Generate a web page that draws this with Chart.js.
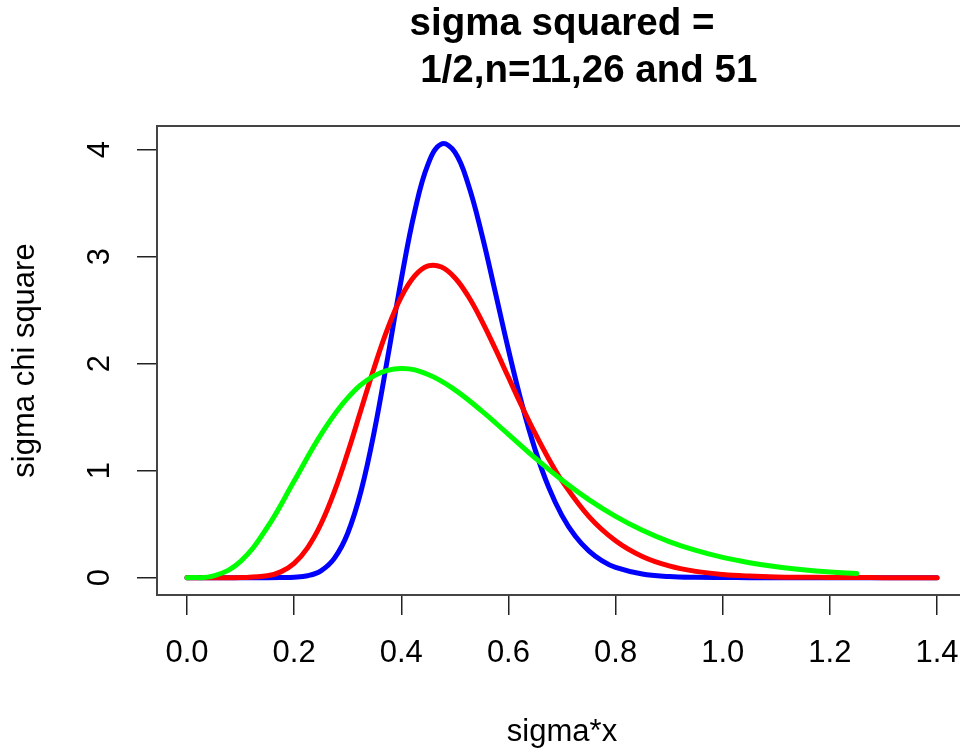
<!DOCTYPE html>
<html>
<head>
<meta charset="utf-8">
<title>sigma chi square</title>
<script src="https://cdn.jsdelivr.net/npm/chart.js@4"></script>
<style>
    html, body { margin: 0; padding: 0; background: #fff; overflow: hidden; }
    #wrap { position: relative; width: 980px; height: 751px; }
</style>
</head>
<body>
<div id="wrap"><canvas id="Densidades"></canvas></div>
<script>
// Eixos
const xTicks = [0, 0.2, 0.4, 0.6, 0.8, 1.0, 1.2, 1.4];
const yTicks = [0, 1, 2, 3, 4];

// n = 51 (azul)
const xAzul = [0, 0.05, 0.1, 0.15, 0.175, 0.2, 0.225, 0.25, 0.275, 0.3, 0.325, 0.35, 0.375, 0.4, 0.425, 0.45, 0.475,
    0.5, 0.525, 0.55, 0.575, 0.6, 0.625, 0.65, 0.675, 0.7, 0.725, 0.75, 0.775, 0.8, 0.85, 0.9, 0.95,
    1.0, 1.05, 1.1, 1.15, 1.2, 1.25, 1.3, 1.35, 1.4];
const yAzul = [0, 0, 0, 0, 0.001, 0.004, 0.018, 0.064, 0.180, 0.415, 0.812, 1.377, 2.067, 2.787, 3.420, 3.864, 4.052,
    3.976, 3.674, 3.215, 2.677, 2.130, 1.625, 1.194, 0.846, 0.580, 0.386, 0.250, 0.157, 0.096, 0.034, 0.011, 0.003,
    0.001, 0, 0, 0, 0, 0, 0, 0, 0];

// n = 26 (vermelho)
const xVermelho = [0, 0.05, 0.1, 0.15, 0.175, 0.2, 0.225, 0.25, 0.275, 0.3, 0.325, 0.35, 0.375, 0.4, 0.425, 0.45, 0.475,
    0.5, 0.525, 0.55, 0.575, 0.6, 0.625, 0.65, 0.675, 0.7, 0.75, 0.8, 0.85, 0.9, 0.95,
    1.0, 1.05, 1.1, 1.15, 1.2, 1.25, 1.3, 1.35, 1.4];
const yVermelho = [0, 0, 0.001, 0.017, 0.054, 0.134, 0.279, 0.501, 0.803, 1.169, 1.571, 1.971, 2.333, 2.623, 2.819, 2.912, 2.902,
    2.802, 2.629, 2.402, 2.144, 1.872, 1.602, 1.347, 1.112, 0.905, 0.573, 0.345, 0.198, 0.110, 0.059,
    0.030, 0.015, 0.007, 0.004, 0.002, 0.001, 0, 0, 0];

// n = 11 (verde)
const xVerde = [0, 0.05, 0.1, 0.15, 0.2, 0.25, 0.3, 0.35, 0.4, 0.45, 0.5, 0.55, 0.6, 0.65, 0.7, 0.75,
    0.8, 0.85, 0.9, 0.95, 1.0, 1.05, 1.1, 1.15, 1.2, 1.25];
const yVerde = [0, 0.016, 0.153, 0.471, 0.902, 1.336, 1.680, 1.888, 1.954, 1.898, 1.755, 1.558, 1.339, 1.118, 0.912, 0.729,
    0.573, 0.443, 0.337, 0.254, 0.189, 0.140, 0.102, 0.074, 0.053, 0.038];

const pontos = (xs, ys) => xs.map((x, i) => ({ x: x, y: ys[i] }));

Chart.defaults.font.family = "'Liberation Sans', Arial, sans-serif";
Chart.defaults.color = '#000';

// moldura do painel
const caixaPlugin = {
    id: 'caixa',
    afterDatasetsDraw(chart) {
        const { ctx, chartArea: a } = chart;
        ctx.save();
        ctx.strokeStyle = '#444';
        ctx.lineWidth = 2;
        ctx.strokeRect(a.left, a.top, a.right - a.left, a.bottom - a.top);
        ctx.restore();
    }
};

const linha = (label, xs, ys, cor, ordem) => ({
    label: label,
    data: pontos(xs, ys),
    borderColor: cor,
    backgroundColor: cor,
    borderWidth: 5,
    borderCapStyle: 'round',
    borderJoinStyle: 'round',
    pointRadius: 0,
    fill: false,
    tension: 0.4,
    order: ordem
});

const ctx = document.getElementById('Densidades').getContext('2d');
new Chart(ctx, {
    type: 'line',
    data: {
        datasets: [
            linha('n=51', xAzul, yAzul, '#0000ff', 3),
            linha('n=26', xVermelho, yVermelho, '#ff0000', 2),
            linha('n=11', xVerde, yVerde, '#00ff00', 1)
        ]
    },
    options: {
        responsive: true,
        maintainAspectRatio: false,
        animation: false,
        layout: { padding: { left: 0, right: 13, top: 0, bottom: 0 } },
        plugins: {
            legend: { display: false },
            tooltip: { enabled: false },
            title: {
                display: true,
                fullSize: false,
                text: ['sigma squared =', '     1/2,n=11,26 and 51'],
                color: '#000',
                font: { size: 38.5, weight: 'bold', lineHeight: '47px' },
                padding: { top: 1, bottom: 31 }
            }
        },
        scales: {
            x: {
                type: 'linear',
                min: -0.056,
                max: 1.456,
                afterBuildTicks: s => { s.ticks = xTicks.map(v => ({ value: v })); },
                afterFit: s => { s.height = 156; },
                border: { display: false },
                grid: { drawOnChartArea: false, drawTicks: true, tickLength: 20, color: '#222', lineWidth: 1.5 },
                ticks: {
                    font: { size: 31 },
                    padding: 20,
                    maxRotation: 0,
                    callback: v => Number(v).toFixed(1)
                },
                title: { display: true, text: 'sigma*x', font: { size: 31 }, padding: { top: 0, bottom: 0 } }
            },
            y: {
                type: 'linear',
                min: -0.162,
                max: 4.22,
                afterBuildTicks: s => { s.ticks = yTicks.map(v => ({ value: v })); },
                afterFit: s => { s.width = 157; },
                border: { display: false },
                grid: { drawOnChartArea: false, drawTicks: true, tickLength: 20, color: '#222', lineWidth: 1.5 },
                ticks: {
                    font: { size: 31 },
                    padding: 28,
                    minRotation: 90,
                    maxRotation: 90,
                    crossAlign: 'center',
                    callback: v => String(v)
                },
                title: { display: true, text: 'sigma chi square', font: { size: 31 }, padding: { top: 7, bottom: 0 } }
            }
        }
    },
    plugins: [caixaPlugin]
});
</script>
</body>
</html>
